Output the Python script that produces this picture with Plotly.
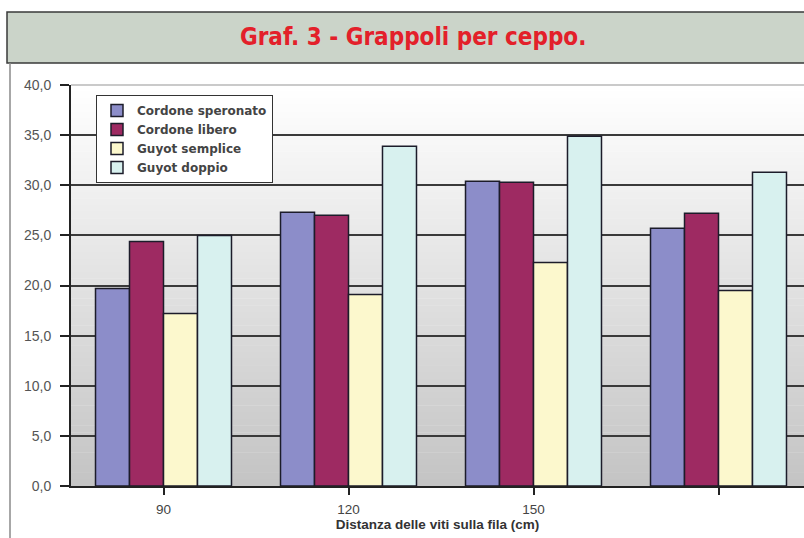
import plotly.graph_objects as go

# Grappoli per ceppo by vine spacing along the row and training system
categories = ["90", "120", "150", ""]
cordone_speronato = [19.7, 27.3, 30.4, 25.7]
cordone_libero = [24.4, 27.0, 30.3, 27.2]
guyot_semplice = [17.2, 19.1, 22.3, 19.5]
guyot_doppio = [25.0, 33.9, 34.9, 31.3]

series = [
    ("Cordone speronato", cordone_speronato, "#8c8dc9"),
    ("Cordone libero", cordone_libero, "#9e2a62"),
    ("Guyot semplice", guyot_semplice, "#fcf8cd"),
    ("Guyot doppio", guyot_doppio, "#d8f1ef"),
]

W, H = 804, 538
ML, MR, MT, MB = 71, 0, 85, 52
PW, PH = W - ML - MR, H - MT - MB


def px_x(x):
    return (x - ML) / PW


def px_y(y):
    return (H - MB - y) / PH


fig = go.Figure()
for name, vals, color in series:
    fig.add_trace(go.Bar(
        x=list(range(len(categories))), y=vals, name=name,
        marker=dict(color=color, line=dict(color="#1c1c2a", width=1.5)),
    ))

shapes = []
# plot-area background: white at the top fading to grey at the bottom
n = 60
top_c, bot_c = (255, 255, 255), (196, 196, 196)
for i in range(n):
    t = (i + 0.5) / n
    c = tuple(round(top_c[k] + (bot_c[k] - top_c[k]) * t) for k in range(3))
    shapes.append(dict(type="rect", xref="paper", yref="paper",
                       x0=0, x1=1, y0=1 - (i + 1) / n, y1=1 - i / n + 0.001,
                       fillcolor="rgb(%d,%d,%d)" % c, line=dict(width=0),
                       layer="below"))
# light top border of the plot area
shapes.append(dict(type="line", xref="paper", yref="paper", x0=0, x1=1,
                   y0=1, y1=1, line=dict(color="#b8b8b8", width=1.5),
                   layer="between"))
# title band
shapes.append(dict(type="rect", xref="paper", yref="paper",
                   x0=px_x(7), x1=px_x(806), y0=px_y(63), y1=px_y(12),
                   fillcolor="#cbd4c9", line=dict(color="#3a3a3a", width=1.5),
                   layer="above"))
# left frame line of the panel
shapes.append(dict(type="line", xref="paper", yref="paper",
                   x0=px_x(10), x1=px_x(10), y0=px_y(63), y1=px_y(540),
                   line=dict(color="#8a8a8a", width=1.5), layer="above"))

fig.update_layout(
    width=W, height=H,
    margin=dict(l=ML, r=MR, t=MT, b=MB, autoexpand=False),
    paper_bgcolor="white", plot_bgcolor="rgba(0,0,0,0)",
    barmode="group", bargap=0.265, bargroupgap=0,
    separators=",.",
    shapes=shapes,
    annotations=[dict(
        text="<b>Graf. 3 - Grappoli per ceppo.</b>", xref="paper", yref="paper",
        x=px_x(413), y=px_y(37), xanchor="center", yanchor="middle",
        showarrow=False,
        font=dict(family="Liberation Sans Narrow, DejaVu Sans Condensed, sans-serif",
                  size=24, color="#e3202a"),
    )],
    legend=dict(
        x=px_x(96), y=px_y(95), xanchor="left", yanchor="top",
        bgcolor="white", bordercolor="#333333", borderwidth=1,
        font=dict(family="DejaVu Sans, Verdana, sans-serif", size=12,
                  color="#444444", weight="bold"),
        tracegroupgap=0, itemwidth=30,
    ),
    font=dict(family="Liberation Sans, Arial, sans-serif"),
    xaxis=dict(
        range=[-0.5, (W - ML) / 185 - 0.5],
        tickvals=list(range(len(categories))), ticktext=categories,
        ticks="outside", tickson="boundaries", ticklen=7,
        tickcolor="#222222", tickwidth=1.5,
        showline=True, linecolor="#222222", linewidth=1.5,
        showgrid=False, zeroline=False,
        ticklabelstandoff=3,
        tickfont=dict(size=13.5, color="#444444"),
        title=dict(text="<b>Distanza delle viti sulla fila (cm)</b>",
                   font=dict(size=13.5, color="#333333"), standoff=0),
    ),
    yaxis=dict(
        range=[0, 40], dtick=5, tickformat=".1f",
        ticks="outside", ticklen=9, tickcolor="#222222", tickwidth=1.5,
        ticklabelstandoff=6,
        showline=True, linecolor="#222222", linewidth=2,
        showgrid=True, gridcolor="#3a3a3a", gridwidth=1.5,
        zeroline=False,
        tickfont=dict(size=14, color="#555555"),
    ),
)

fig.write_html("out.html")
